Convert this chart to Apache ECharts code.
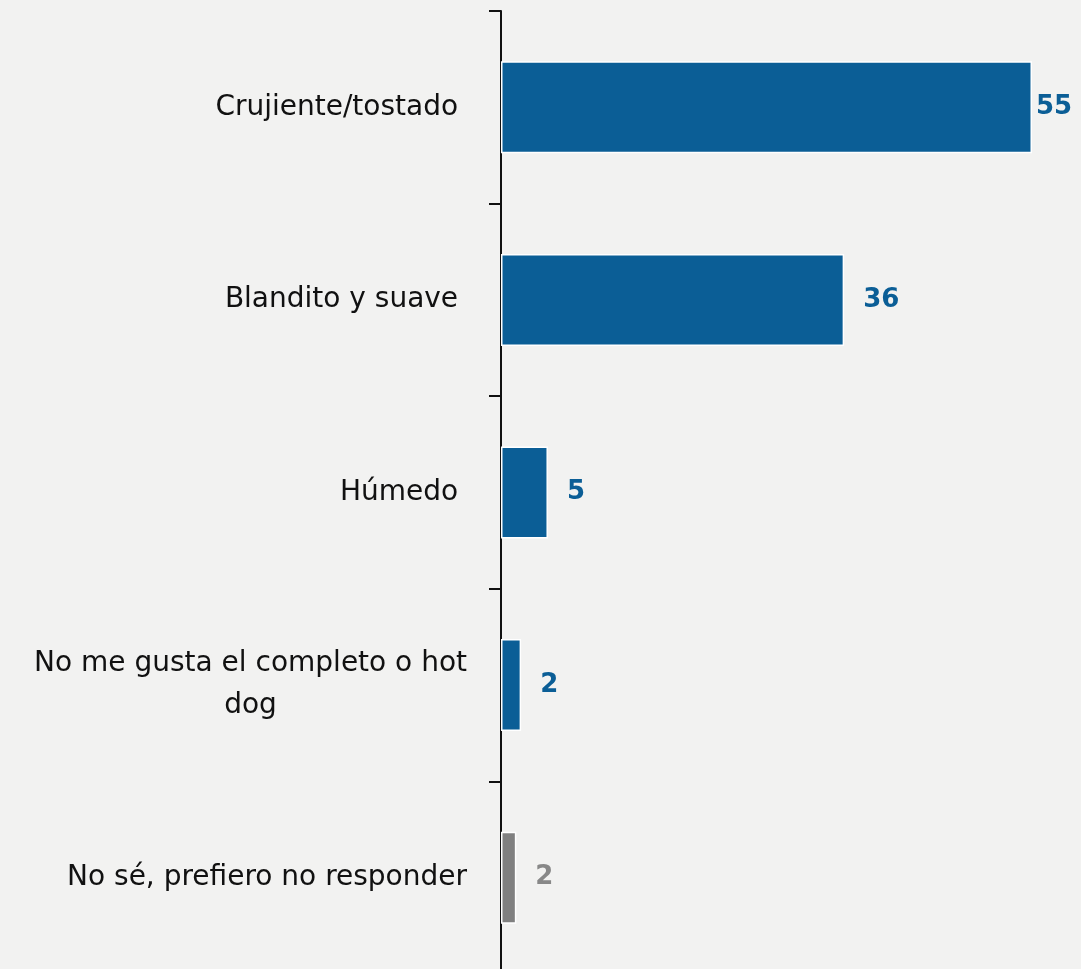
<!DOCTYPE html>
<html>
<head>
<meta charset="utf-8">
<script src="https://cdn.jsdelivr.net/npm/echarts@6/dist/echarts.min.js"></script>
<style>
  html, body { margin: 0; padding: 0; background: #f2f2f1; overflow: hidden; }
  #chart { width: 1081px; height: 976px; }
</style>
</head>
<body>
<div id="chart"></div>
<script>
// Categories (first three carry a trailing space)
const categories = [
  'Crujiente/tostado ',
  'Blandito y suave ',
  'Húmedo ',
  'No me gusta el completo o hot dog',
  'No sé, prefiero no responder'
];
const values = [55.4, 35.8, 4.9, 2.1, 1.6];
const barColors = ['#0b5e96', '#0b5e96', '#0b5e96', '#0b5e96', '#808080'];
const labelColors = ['#0b5e96', '#0b5e96', '#0b5e96', '#0b5e96', '#888888'];

function wrapLabel(text, maxChars) {
  if (text.length <= maxChars) return '{r|' + text + '}';
  const cut = text.lastIndexOf(' ', maxChars);
  return '{r|' + text.slice(0, cut) + '}\n{c|' + text.slice(cut + 1) + '}';
}

const chart = echarts.init(document.getElementById('chart'), null, { renderer: 'canvas' });
chart.setOption({
  backgroundColor: '#f2f2f1',
  animation: false,
  grid: { left: 501, right: 49, top: 11, height: 963 },
  xAxis: {
    type: 'value', min: 0, max: 'dataMax', show: false,
    splitLine: { show: false }
  },
  yAxis: {
    type: 'category', data: categories, inverse: true,
    axisLine: { show: true, lineStyle: { color: '#111', width: 2 } },
    axisTick: { show: true, length: 12, lineStyle: { color: '#111', width: 2 } },
    axisLabel: {
      margin: 34,
      fontFamily: 'DejaVu Sans', fontSize: 28, color: '#111', lineHeight: 42,
      formatter: (v) => wrapLabel(v, 30),
      rich: {
        r: { fontFamily: 'DejaVu Sans', fontSize: 28, color: '#111', lineHeight: 42, align: 'right' },
        c: { fontFamily: 'DejaVu Sans', fontSize: 28, color: '#111', lineHeight: 42, align: 'center' }
      }
    }
  },
  series: [{
    type: 'bar',
    barWidth: 92,
    data: values.map((v, i) => ({
      value: v,
      itemStyle: { color: barColors[i], borderColor: '#ffffff', borderWidth: 1.5 },
      label: { color: labelColors[i], distance: i === 0 ? 4 : 19 }
    })),
    label: {
      show: true, position: 'right',
      fontFamily: 'DejaVu Sans', fontWeight: 'bold', fontSize: 26,
      formatter: (p) => Math.round(p.value)
    }
  }]
});
</script>
</body>
</html>
